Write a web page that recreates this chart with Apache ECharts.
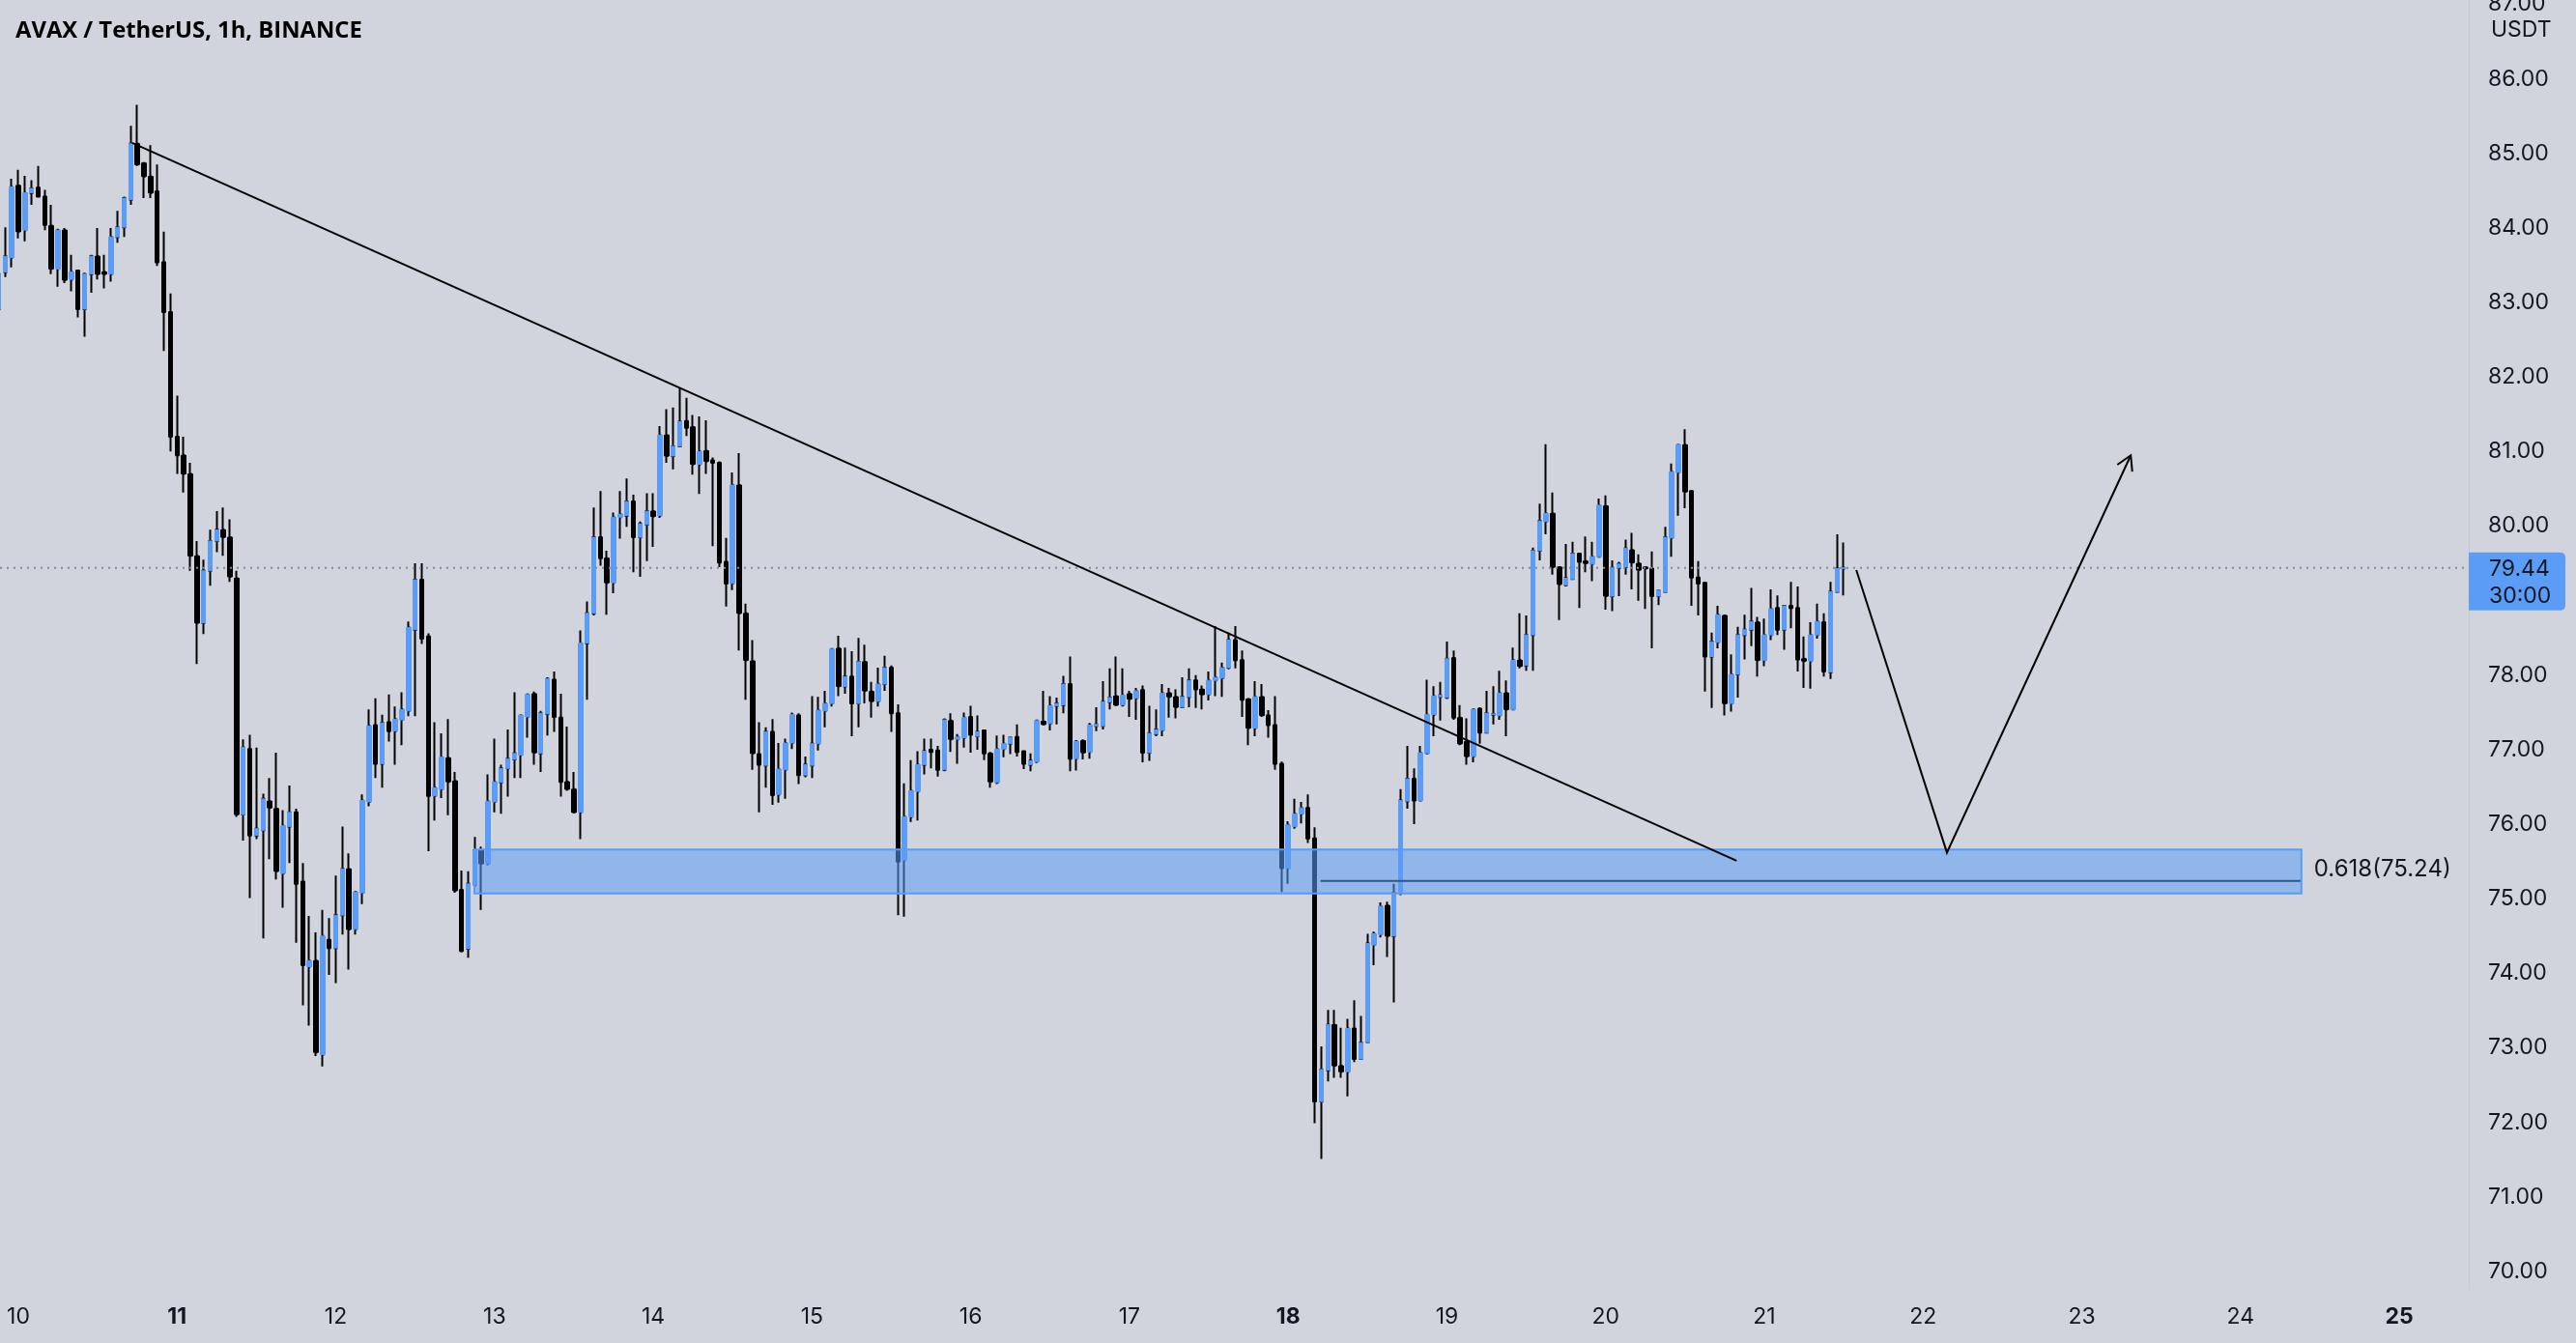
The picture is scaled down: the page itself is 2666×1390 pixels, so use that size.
<!DOCTYPE html>
<html><head><meta charset="utf-8">
<script src="https://cdn.jsdelivr.net/npm/echarts@6/dist/echarts.min.js"></script>
<style>html,body{margin:0;padding:0;background:#d1d4dc;overflow:hidden}#c{width:2666px;height:1390px}</style>
</head><body><div id="c"></div>
<script>
// hours since 10 Oct 00:00 of the first candle shown
const firstHour = -3;
const totalSlots = 374;
const titleText = 'AVAX / TetherUS, 1h, BINANCE';
const currencyText = 'USDT';
const dayTicks = [10,11,12,13,14,15,16,17,18,19,20,21,22,23,24,25];
const boldDays = [11,18,25];
const priceTicks = [70,71,72,73,74,75,76,77,78,79,80,81,82,83,84,85,86,87];
const lastPrice = 79.44;
const countdown = '30:00';

const opens = [82.91,
83.41,83.60,84.57,83.97,84.47,84.54,84.42,84.03,83.45,83.97,
83.31,83.43,82.91,83.38,83.62,83.41,83.38,83.88,84.01,84.38,
85.13,84.87,84.69,84.49,83.54,82.87,81.20,80.95,80.70,79.60,
78.70,79.40,79.80,79.95,79.85,79.30,76.13,77.01,75.85,75.92,
76.31,76.21,75.34,75.97,76.16,75.23,74.09,74.17,72.91,74.45,
74.34,74.78,75.40,74.59,75.08,76.30,77.33,76.81,77.37,77.25,
77.40,77.52,78.61,79.28,78.52,76.38,76.47,76.89,76.58,75.12,
74.33,75.19,75.65,75.47,76.30,76.56,76.75,76.87,76.93,77.44,
77.75,76.95,77.48,77.94,77.43,76.57,76.47,76.16,78.43,78.83,
79.85,79.57,79.24,80.12,80.14,80.33,79.85,80.02,80.20,80.14,
81.22,80.94,81.07,81.41,81.33,80.83,81.01,80.88,80.85,79.52,
79.23,80.55,78.83,78.19,76.94,76.79,77.24,76.40,76.73,77.09,
77.46,76.66,76.79,77.08,77.52,77.62,78.36,77.85,77.98,77.62,
78.18,77.78,77.65,77.88,78.10,77.49,75.52,76.10,76.44,76.80,
77.00,76.99,76.73,77.39,77.14,77.16,77.44,77.18,77.26,76.95,
76.56,77.01,77.08,77.17,76.98,76.80,76.84,77.38,77.35,77.59,
77.60,77.88,76.88,77.12,76.97,77.32,77.32,77.64,77.72,77.60,
77.75,77.69,77.80,76.96,77.21,77.26,77.76,77.71,77.57,77.71,
77.93,77.81,77.74,77.93,77.96,78.10,78.47,78.20,77.68,77.29,
77.71,77.46,77.33,76.81,75.41,75.97,76.14,76.22,75.81,72.28,
72.70,73.31,72.76,72.68,73.26,72.85,73.08,74.38,74.52,74.91,
74.50,75.08,76.31,76.61,76.32,76.95,77.47,77.71,77.70,78.23,
77.43,77.11,76.91,77.55,77.23,77.47,77.46,77.76,77.54,78.20,
78.13,78.54,79.67,80.06,80.17,79.45,79.21,79.29,79.63,79.53,
79.49,79.59,80.27,79.06,79.44,79.45,79.68,79.50,79.45,79.43,
79.06,79.12,79.84,80.72,81.09,80.47,79.31,79.24,78.25,78.44,
78.80,77.62,78.01,78.54,78.61,78.71,78.20,78.54,78.90,78.61,
78.93,78.90,78.22,78.19,78.54,78.71,78.04,79.12,79.43];
const closes = [83.38,
83.62,84.55,83.95,84.47,84.53,84.42,84.04,83.45,83.97,83.30,
83.41,82.91,83.38,83.62,83.38,83.38,83.88,84.01,84.40,85.13,
84.85,84.69,84.47,83.54,82.87,81.20,80.95,80.70,79.60,78.70,
79.40,79.80,79.95,79.85,79.32,76.13,77.03,75.85,75.94,76.34,
76.22,75.37,75.98,76.16,75.20,74.11,74.17,72.94,74.50,74.34,
74.78,75.40,74.59,75.09,76.32,77.32,76.81,77.36,77.25,77.41,
77.54,78.64,79.28,78.49,76.38,76.49,76.90,76.57,75.11,74.30,
75.20,75.65,75.47,76.31,76.57,76.75,76.88,76.95,77.46,77.74,
76.96,77.49,77.95,77.44,76.57,76.47,76.16,78.43,78.83,79.85,
79.57,79.24,80.12,80.16,80.33,79.85,80.03,80.20,80.13,81.22,
80.94,81.07,81.40,81.32,80.83,81.00,80.87,80.85,79.51,79.23,
80.55,78.83,78.20,76.95,76.80,77.24,76.39,76.74,77.09,77.47,
76.66,76.80,77.08,77.53,77.62,78.35,77.85,77.98,77.62,78.18,
77.79,77.65,77.88,78.10,77.49,75.50,76.10,76.45,76.80,76.98,
76.97,76.73,77.40,77.14,77.17,77.43,77.20,77.24,76.95,76.57,
77.01,77.08,77.16,76.97,76.81,76.85,77.39,77.34,77.59,77.62,
77.88,76.88,77.11,76.96,77.33,77.34,77.64,77.70,77.60,77.73,
77.68,77.79,76.96,77.22,77.27,77.76,77.71,77.57,77.71,77.93,
77.81,77.74,77.93,77.97,78.10,78.47,78.20,77.67,77.29,77.71,
77.46,77.33,76.81,75.41,75.99,76.14,76.22,75.81,72.28,72.71,
73.31,72.76,72.68,73.26,72.85,73.07,74.40,74.53,74.90,74.50,
75.08,76.32,76.61,76.32,76.96,77.47,77.72,77.73,78.22,77.43,
77.08,76.91,77.54,77.23,77.49,77.48,77.76,77.54,78.20,78.12,
78.54,79.67,80.07,80.17,79.45,79.22,79.30,79.63,79.52,79.50,
79.59,80.28,79.06,79.44,79.49,79.70,79.51,79.41,79.43,79.06,
79.13,79.85,80.73,81.09,80.46,79.31,79.23,78.25,78.45,78.81,
77.62,78.01,78.54,78.61,78.72,78.20,78.54,78.89,78.61,78.93,
78.90,78.21,78.19,78.54,78.72,78.05,79.12,79.43,79.44];
const lows = [82.85,
83.34,83.47,83.86,83.82,84.31,84.42,83.97,83.38,83.21,83.26,
83.15,82.80,82.54,83.13,83.31,83.19,83.28,83.80,83.88,84.31,
84.83,84.40,84.40,83.49,82.35,81.00,80.70,80.45,79.40,78.15,
78.55,79.20,79.65,79.60,79.25,76.10,75.78,75.01,75.80,74.47,
75.53,75.26,74.88,75.48,74.41,73.57,73.30,72.89,72.75,73.98,
73.87,74.52,74.05,74.52,74.93,76.24,76.62,76.49,77.11,76.80,
77.06,77.45,77.45,78.42,75.64,76.05,76.35,76.12,75.08,74.28,
74.21,75.16,74.85,75.45,76.16,76.14,76.37,76.62,76.62,77.16,
76.80,76.70,77.19,77.24,76.37,76.45,76.15,75.80,77.67,78.80,
79.47,78.81,79.10,79.83,79.99,79.38,79.32,79.53,79.72,80.11,
80.85,80.76,81.06,81.21,80.69,80.43,80.70,79.73,79.45,78.92,
79.14,78.33,77.67,76.73,76.16,76.49,76.26,76.29,76.34,77.01,
76.54,76.63,76.62,76.99,77.30,77.58,77.72,77.75,77.18,77.30,
77.62,77.43,77.58,77.79,77.24,74.78,74.76,76.03,76.05,76.67,
76.75,76.64,76.71,76.97,76.81,77.03,76.96,77.00,76.86,76.49,
76.54,76.90,76.94,76.91,76.74,76.71,76.82,77.34,77.26,77.34,
77.49,76.71,76.72,76.87,76.88,77.25,77.27,77.54,77.60,77.58,
77.44,77.40,76.83,76.85,77.18,77.18,77.43,77.42,77.57,77.57,
77.56,77.54,77.66,77.72,77.71,78.08,78.09,77.44,77.06,77.18,
77.44,77.16,76.73,75.09,75.20,75.94,76.01,75.75,71.99,71.51,
72.55,72.60,72.60,72.35,72.81,72.85,73.08,74.11,74.48,74.22,
73.61,75.05,76.21,76.00,76.31,76.94,77.18,77.39,77.68,77.40,
77.06,76.80,76.83,77.08,77.23,77.34,77.40,77.18,77.53,78.09,
78.06,78.06,79.54,79.89,79.35,78.74,79.19,79.28,78.90,79.38,
79.26,79.58,78.88,78.86,79.06,79.35,79.15,79.00,78.89,78.36,
78.94,79.11,79.59,80.14,80.24,78.93,78.80,77.78,77.56,78.36,
77.46,77.51,77.70,78.21,78.39,77.98,78.12,78.47,78.54,78.34,
78.63,78.05,77.83,77.82,78.49,77.98,77.95,79.12,79.07];
const highs = [83.45,
84.01,84.66,84.78,84.70,84.64,84.83,84.51,84.31,83.99,84.00,
83.64,83.43,83.40,83.64,84.00,83.64,84.00,84.23,84.42,85.37,
85.65,84.88,85.11,84.85,83.95,83.12,81.75,81.20,80.85,79.80,
79.55,79.95,80.20,80.25,80.09,79.40,77.14,77.20,77.03,76.41,
76.62,76.96,76.19,76.52,76.21,75.48,74.77,74.55,74.85,74.74,
75.31,75.97,75.61,75.09,76.40,77.54,77.69,77.47,77.74,77.58,
77.77,78.72,79.50,79.50,78.56,77.37,77.22,77.41,76.70,75.38,
75.37,75.83,75.70,76.67,77.15,76.80,77.27,77.77,77.47,77.75,
77.78,77.52,77.97,78.05,77.75,77.31,76.70,78.60,78.99,80.25,
80.47,79.67,80.18,80.47,80.64,80.42,80.06,80.44,80.44,81.34,
81.57,81.59,81.85,81.72,81.49,81.47,81.42,80.92,80.87,79.84,
80.72,80.98,78.96,78.47,77.37,77.30,77.41,77.09,77.15,77.50,
77.49,76.91,77.72,77.71,77.79,78.36,78.53,78.37,78.32,78.50,
78.41,77.91,78.10,78.26,78.13,77.61,76.55,76.86,76.98,77.15,
77.15,77.05,77.42,77.49,77.21,77.50,77.59,77.46,77.27,76.97,
77.19,77.20,77.17,77.34,76.99,76.95,77.40,77.79,77.72,77.70,
77.99,78.25,77.13,77.14,77.36,77.57,77.92,78.09,78.25,78.09,
77.79,77.83,77.86,77.59,77.54,77.88,77.83,77.81,77.97,78.09,
78.00,77.86,78.05,78.66,78.17,78.57,78.66,78.33,77.69,77.92,
77.88,77.53,77.72,76.84,76.04,76.34,76.30,76.40,75.96,73.02,
73.51,73.51,73.27,73.39,73.64,73.43,74.53,74.56,74.95,74.96,
75.20,76.47,77.05,76.75,77.05,77.94,77.85,77.91,78.45,78.33,
77.60,77.42,77.55,77.57,77.79,77.85,78.06,77.93,78.37,78.83,
78.80,79.71,80.30,81.10,80.45,79.45,79.76,79.79,79.64,79.86,
79.79,80.37,80.41,79.54,79.52,79.82,79.91,79.62,79.46,79.66,
79.13,79.99,80.84,81.10,81.30,80.48,79.53,79.25,78.57,78.93,
78.80,78.28,78.65,78.81,79.17,78.78,78.76,79.15,79.07,78.93,
79.25,79.19,78.52,78.71,78.96,78.83,79.25,79.89,79.78];

// drawings: [hour index, price]
const trendLine = [[17.2, 85.14], [259.8, 75.51]];
const zoneHours = [68.96, 345.2];
const zonePrices = [75.07, 75.66];
const fibHours = [196.9, 345.2];
const fibValue = 75.24;
const fibLabel = '0.618(75.24)';
const projection = [[277.9, 79.41], [291.6, 75.62], [319.4, 80.95]];

const UP = '#5b9cf6', DOWN = '#000000', TXT = '#131722', BG = '#d1d4dc';
const FONT = 'Inter, Roboto, sans-serif';

const cats = [];
for (let i = 0; i < totalSlots; i++) {
  const k = firstHour + i;
  const d = 10 + Math.floor(k / 24);
  const h = ((k % 24) + 24) % 24;
  cats.push(d + ' ' + h + ':00');
}
const full = opens.map((o, i) => [o, closes[i], lows[i], highs[i]]);
const bodies = opens.map((o, i) => [o, closes[i], Math.min(o, closes[i]), Math.max(o, closes[i])]);

const yMax = 87.0577, yMin = 69.7667;
const chart = echarts.init(document.getElementById('c'), null, {renderer: 'canvas', width: 2666, height: 1390});
chart.setOption({
  animation: false,
  backgroundColor: BG,
  grid: {left: -4.95, right: 111, top: 0, bottom: 56, containLabel: false, outerBoundsMode: 'none'},
  xAxis: {
    type: 'category', data: cats, boundaryGap: true,
    axisLine: {show: false}, axisTick: {show: false}, splitLine: {show: false},
    axisLabel: {
      margin: 18, color: TXT, fontSize: 23, fontFamily: FONT, hideOverlap: false,
      interval: (i) => { const k = firstHour + i; return k >= 0 && k % 24 === 0 && dayTicks.includes(10 + k / 24); },
      formatter: (v, i) => { const d = 10 + (firstHour + i) / 24; return boldDays.includes(d) ? '{b|' + d + '}' : '{n|' + d + '}'; },
      rich: {
        b: {fontWeight: 'bold', fontSize: 23, fontFamily: FONT, color: TXT},
        n: {fontSize: 23, fontFamily: FONT, color: TXT}
      }
    }
  },
  yAxis: {
    type: 'value', position: 'right', min: yMin, max: yMax, scale: true,
    axisLine: {show: true, lineStyle: {color: '#c6c9d1', width: 1}},
    axisTick: {show: false}, splitLine: {show: false},
    axisLabel: {customValues: priceTicks, margin: 20, color: TXT, fontSize: 23, fontFamily: FONT,
      padding: [6, 0, 0, 0], formatter: (v) => v.toFixed(2)}
  },
  series: [
    {type: 'candlestick', data: full, barWidth: 2, z: 2,
     itemStyle: {color: DOWN, color0: DOWN, borderColor: DOWN, borderColor0: DOWN, borderWidth: 2},
     emphasis: {disabled: true}},
    {type: 'candlestick', data: bodies, barWidth: 5, z: 3,
     itemStyle: {color: UP, color0: DOWN, borderColor: UP, borderColor0: DOWN, borderWidth: 1},
     emphasis: {disabled: true}}
  ]
});

function P(k, p) {
  const idx = k - firstHour;
  const i0 = Math.floor(idx);
  const a = chart.convertToPixel({gridIndex: 0}, [i0, p]);
  const b = chart.convertToPixel({gridIndex: 0}, [i0 + 1, p]);
  return [a[0] + (idx - i0) * (b[0] - a[0]), a[1]];
}
const axisX = P(firstHour + totalSlots - 0.5, lastPrice)[0];
const g = [];
// last price dotted line
const yl = P(0, lastPrice)[1];
g.push({type: 'line', z: 6, shape: {x1: 0, y1: yl, x2: axisX, y2: yl}, style: {stroke: '#7d8aa3', lineWidth: 2, lineDash: [2, 5]}});
// fib level line
const f1 = P(fibHours[0], fibValue), f2 = P(fibHours[1], fibValue);
g.push({type: 'line', z: 7, shape: {x1: f1[0], y1: f1[1], x2: f2[0], y2: f2[1]}, style: {stroke: '#000', lineWidth: 2}});
// zone
const z1 = P(zoneHours[0], zonePrices[1]), z2 = P(zoneHours[1], zonePrices[0]);
g.push({type: 'rect', z: 8, shape: {x: z1[0], y: z1[1], width: z2[0] - z1[0], height: z2[1] - z1[1]},
  style: {fill: 'rgba(91,156,246,0.55)', stroke: '#5b9cf6', lineWidth: 2}});
g.push({type: 'text', z: 9, x: f2[0] + 13, y: f2[1] - 12,
  style: {text: fibLabel, fontSize: 24, fontFamily: FONT, fill: TXT, align: 'left', verticalAlign: 'middle'}});
// trend line
const t1 = P(trendLine[0][0], trendLine[0][1]), t2 = P(trendLine[1][0], trendLine[1][1]);
g.push({type: 'line', z: 9, shape: {x1: t1[0], y1: t1[1], x2: t2[0], y2: t2[1]}, style: {stroke: '#000', lineWidth: 2}});
// projection path with arrow head
const pts = projection.map(q => P(q[0], q[1]));
g.push({type: 'polyline', z: 9, shape: {points: pts}, style: {stroke: '#000', lineWidth: 2, fill: null}});
const e = pts[2], s = pts[1];
const dx = e[0] - s[0], dy = e[1] - s[1], L = Math.hypot(dx, dy), ux = dx / L, uy = dy / L;
const ah = 17, ang = Math.PI / 6;
function rot(x, y, a) { return [x * Math.cos(a) - y * Math.sin(a), x * Math.sin(a) + y * Math.cos(a)]; }
const r1 = rot(-ux, -uy, ang), r2 = rot(-ux, -uy, -ang);
g.push({type: 'polyline', z: 9, shape: {points: [[e[0] + r1[0] * ah, e[1] + r1[1] * ah], e, [e[0] + r2[0] * ah, e[1] + r2[1] * ah]]},
  style: {stroke: '#000', lineWidth: 2, fill: null}});
// price tag on the axis
g.push({type: 'rect', z: 10, shape: {x: axisX, y: yl - 16, width: 100, height: 60, r: [0, 5, 5, 0]}, style: {fill: UP}});
g.push({type: 'text', z: 11, x: axisX + 21, y: yl + 1, style: {text: lastPrice.toFixed(2), fontSize: 23, fontFamily: FONT, fill: TXT, verticalAlign: 'middle'}});
g.push({type: 'text', z: 11, x: axisX + 21, y: yl + 29, style: {text: countdown, fontSize: 23, fontFamily: FONT, fill: TXT, verticalAlign: 'middle'}});
// currency + title
g.push({type: 'text', z: 11, x: axisX + 23, y: 31, style: {text: currencyText, fontSize: 23, fontFamily: FONT, fill: TXT, verticalAlign: 'middle'}});
g.push({type: 'text', z: 11, x: 16, y: 32, style: {text: titleText, fontSize: 23.8, fontWeight: 'bold', fontFamily: '"Open Sans", sans-serif', fill: '#000', verticalAlign: 'middle'}});
chart.setOption({graphic: g});
</script></body></html>
